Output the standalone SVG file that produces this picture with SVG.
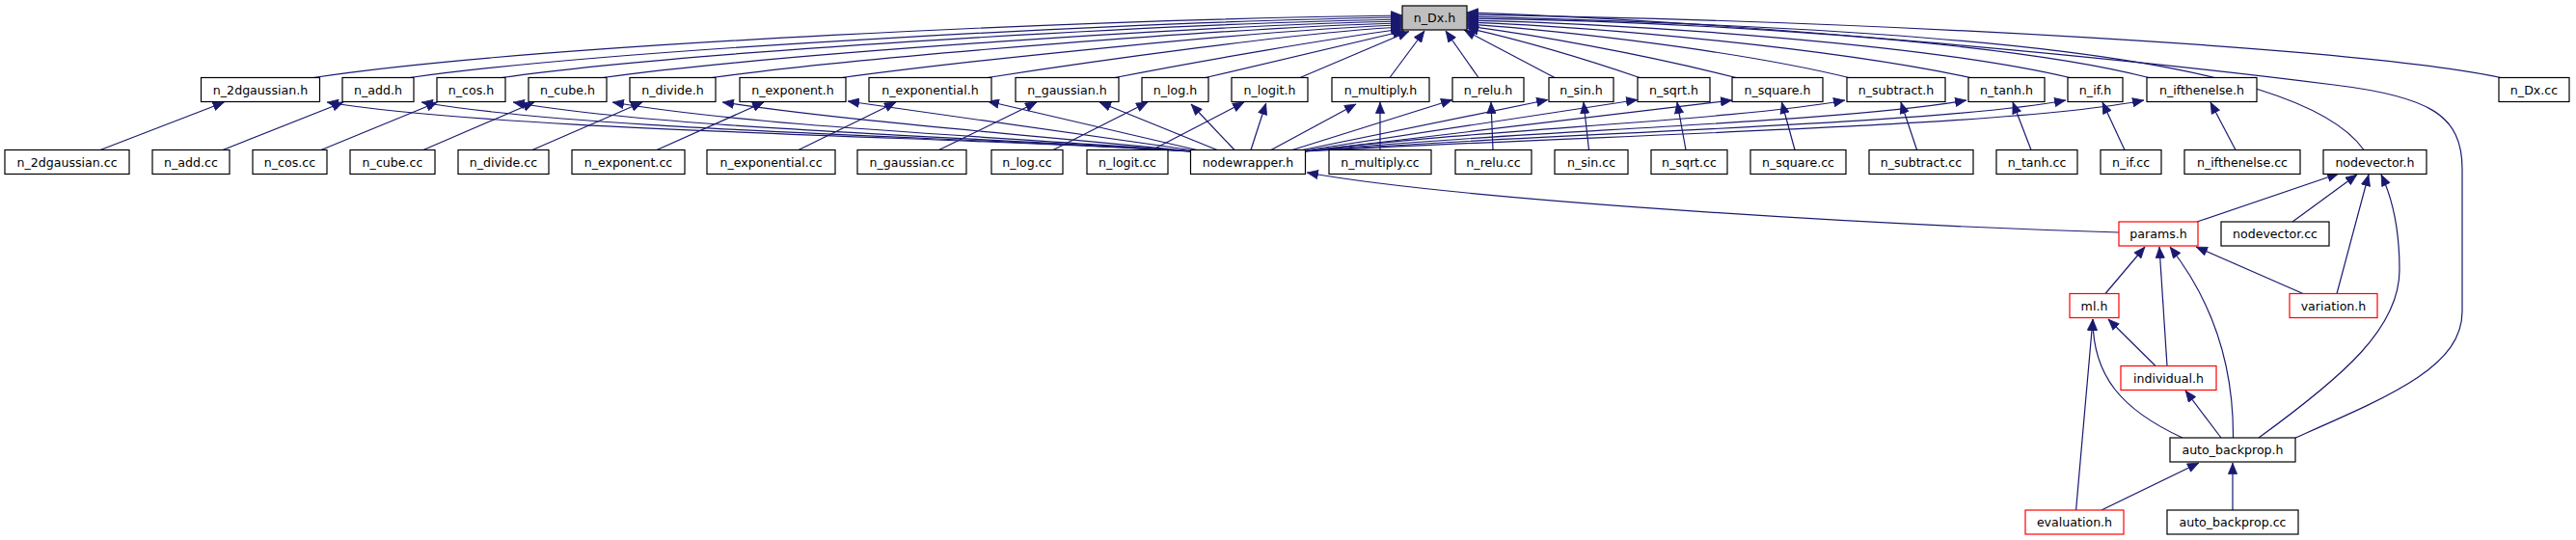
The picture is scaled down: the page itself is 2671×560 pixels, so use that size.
<svg xmlns="http://www.w3.org/2000/svg" width="2671" height="560" viewBox="0 0 2671 560">
<defs>
<marker id="ah" viewBox="0 0 12 10" refX="12" refY="5" markerWidth="12" markerHeight="10" markerUnits="userSpaceOnUse" orient="auto">
<path d="M0.4,0.4 L11.6,5 L0.4,9.6 Z" fill="#191970" stroke="#191970" stroke-width="0.8"/>
</marker>
</defs>
<style>
rect{fill:#ffffff;stroke:#000000;stroke-width:1.2}
.root rect{fill:#bfbfbf}
.red rect{stroke:#ff0000}
text{font-family:"DejaVu Sans","Liberation Sans",sans-serif;font-size:12.6px;text-anchor:middle;fill:#000000}
#edges path{fill:none;stroke:#191970;stroke-width:1.2;marker-end:url(#ah)}
</style>
<rect x="0" y="0" width="2671" height="560" style="fill:#ffffff;stroke:none"/>
<g id="edges">
<path d="M325,80.5 C560,45 1150,20 1454,16"/>
<path d="M425,80.5 C640,50 1200,22 1454,18"/>
<path d="M520,80.5 C720,52 1230,24 1454,20"/>
<path d="M625,80.5 C810,55 1260,26 1454,22"/>
<path d="M738,80.5 C900,58 1290,28 1454,24"/>
<path d="M873,80.5 C1010,62 1320,30 1454,26"/>
<path d="M1024,80.5 C1130,64 1350,33 1454,28"/>
<path d="M1156,80.5 C1250,62 1380,40 1454,30"/>
<path d="M1250,80.5 L1456,32"/>
<path d="M1348,80.5 L1461,32.5"/>
<path d="M1441,80.5 L1477,32"/>
<path d="M1533,80.5 L1499,32"/>
<path d="M1612,80.5 L1518,31"/>
<path d="M1700,80.5 C1640,60 1570,40 1521,29"/>
<path d="M1800,80.5 C1700,55 1590,36 1521,27"/>
<path d="M1917,80.5 C1800,52 1620,32 1521,25"/>
<path d="M2043,80.5 C1900,50 1660,28 1521,23"/>
<path d="M2146,80.5 C2000,46 1700,25 1521,21"/>
<path d="M2228,80.5 C2080,42 1750,22 1521,19"/>
<path d="M2451,155.5 C2380,55 2000,30 1521,17"/>
<path d="M2593,80.5 C2450,50 1950,22 1521,15"/>
<path d="M2380,454 C2480,410 2553,380 2553,323 L2553,175 C2553,120 2520,100 2420,88 C2200,60 1800,22 1521,13"/>
<path d="M104,155.5 L232.5,106"/>
<path d="M231,155.5 L356,106"/>
<path d="M333,155.5 L453.5,106"/>
<path d="M439,155.5 L554,106"/>
<path d="M552,155.5 L666,106"/>
<path d="M681,155.5 L792,106"/>
<path d="M828,155.5 L929,106"/>
<path d="M973.6,155.5 L1075,106"/>
<path d="M1092,155.5 L1190,106"/>
<path d="M1194.6,155.5 L1290,106"/>
<path d="M1431,155.5 L1431,106"/>
<path d="M1548,155.5 L1546,106"/>
<path d="M1647.5,155.5 L1642,106"/>
<path d="M1748,155.5 L1739,106"/>
<path d="M1861,155.5 L1847.5,106"/>
<path d="M1987.6,155.5 L1971,106"/>
<path d="M2106,155.5 L2087,106"/>
<path d="M2203,155.5 L2180,106"/>
<path d="M2318,155.5 L2292,106"/>
<path d="M1236,157 C1000,142 520,136 339,106"/>
<path d="M1236,157 C1010,142 610,136 437,106"/>
<path d="M1236,157 C1020,142 690,134 532,106"/>
<path d="M1236,157 C1040,142 780,131 635,106"/>
<path d="M1237,157 C1070,140 880,126 749,106"/>
<path d="M1238,156 L879,105"/>
<path d="M1241,155.5 L1024,105"/>
<path d="M1262,155.5 L1140,106"/>
<path d="M1280,155.5 L1235,108"/>
<path d="M1297,155.5 L1312.7,107"/>
<path d="M1318,155.5 L1406,108"/>
<path d="M1340,155.5 L1506,103.5"/>
<path d="M1348,156 L1605,103.5"/>
<path d="M1350,156.5 L1698,103.5"/>
<path d="M1352,157 L1796,104"/>
<path d="M1352,157 C1520,135 1800,125 1913,104"/>
<path d="M1352,157 C1560,136 1900,128 2039,104"/>
<path d="M1352,157 C1600,138 2000,130 2142,104"/>
<path d="M1352,157 C1650,140 2080,132 2223,104"/>
<path d="M2197,241 C1900,232 1500,205 1355,179"/>
<path d="M2278,230 L2425,180"/>
<path d="M2377,230 L2444,181"/>
<path d="M2423,304.5 L2456,181"/>
<path d="M2342,454 C2430,390 2488,340 2488,280 C2488,230 2478,200 2469,181"/>
<path d="M2183,304.5 L2224,256"/>
<path d="M2247,379.5 L2239,256"/>
<path d="M2315.5,454 C2316,390 2300,320 2250,256"/>
<path d="M2388,304.5 L2277,256"/>
<path d="M2235,379.5 L2186,331"/>
<path d="M2263,454 C2200,425 2170,390 2170,331"/>
<path d="M2152.6,529 L2170,331"/>
<path d="M2303,454 L2266,405"/>
<path d="M2179,529 L2280,480"/>
<path d="M2315,529 L2315,480"/>
</g>
<g id="n_Dx_h" class="root"><rect x="1454" y="6" width="67" height="25"/><text x="1487.5" y="23">n_Dx.h</text></g>
<g id="n_2dgaussian_h"><rect x="208.5" y="80.5" width="123" height="25"/><text x="270" y="97.5">n_2dgaussian.h</text></g>
<g id="n_add_h"><rect x="355" y="80.5" width="74" height="25"/><text x="392" y="97.5">n_add.h</text></g>
<g id="n_cos_h"><rect x="453" y="80.5" width="71" height="25"/><text x="488.5" y="97.5">n_cos.h</text></g>
<g id="n_cube_h"><rect x="548" y="80.5" width="81" height="25"/><text x="588.5" y="97.5">n_cube.h</text></g>
<g id="n_divide_h"><rect x="653" y="80.5" width="89" height="25"/><text x="697.5" y="97.5">n_divide.h</text></g>
<g id="n_exponent_h"><rect x="767" y="80.5" width="110" height="25"/><text x="822" y="97.5">n_exponent.h</text></g>
<g id="n_exponential_h"><rect x="901" y="80.5" width="127" height="25"/><text x="964.5" y="97.5">n_exponential.h</text></g>
<g id="n_gaussian_h"><rect x="1053" y="80.5" width="107" height="25"/><text x="1106.5" y="97.5">n_gaussian.h</text></g>
<g id="n_log_h"><rect x="1184" y="80.5" width="69" height="25"/><text x="1218.5" y="97.5">n_log.h</text></g>
<g id="n_logit_h"><rect x="1277" y="80.5" width="79" height="25"/><text x="1316.5" y="97.5">n_logit.h</text></g>
<g id="n_multiply_h"><rect x="1381" y="80.5" width="101" height="25"/><text x="1431.5" y="97.5">n_multiply.h</text></g>
<g id="n_relu_h"><rect x="1506" y="80.5" width="74" height="25"/><text x="1543" y="97.5">n_relu.h</text></g>
<g id="n_sin_h"><rect x="1606" y="80.5" width="67" height="25"/><text x="1639.5" y="97.5">n_sin.h</text></g>
<g id="n_sqrt_h"><rect x="1698" y="80.5" width="75" height="25"/><text x="1735.5" y="97.5">n_sqrt.h</text></g>
<g id="n_square_h"><rect x="1796" y="80.5" width="94" height="25"/><text x="1843" y="97.5">n_square.h</text></g>
<g id="n_subtract_h"><rect x="1915" y="80.5" width="102" height="25"/><text x="1966" y="97.5">n_subtract.h</text></g>
<g id="n_tanh_h"><rect x="2041" y="80.5" width="79" height="25"/><text x="2080.5" y="97.5">n_tanh.h</text></g>
<g id="n_if_h"><rect x="2144" y="80.5" width="57" height="25"/><text x="2172.5" y="97.5">n_if.h</text></g>
<g id="n_ifthenelse_h"><rect x="2226" y="80.5" width="114" height="25"/><text x="2283" y="97.5">n_ifthenelse.h</text></g>
<g id="n_Dx_cc"><rect x="2591" y="80.5" width="73" height="25"/><text x="2627.5" y="97.5">n_Dx.cc</text></g>
<g id="n_2dgaussian_cc"><rect x="5" y="155.5" width="129" height="25"/><text x="69.5" y="172.5">n_2dgaussian.cc</text></g>
<g id="n_add_cc"><rect x="158" y="155.5" width="80" height="25"/><text x="198" y="172.5">n_add.cc</text></g>
<g id="n_cos_cc"><rect x="262" y="155.5" width="77" height="25"/><text x="300.5" y="172.5">n_cos.cc</text></g>
<g id="n_cube_cc"><rect x="363" y="155.5" width="88" height="25"/><text x="407" y="172.5">n_cube.cc</text></g>
<g id="n_divide_cc"><rect x="475" y="155.5" width="94" height="25"/><text x="522" y="172.5">n_divide.cc</text></g>
<g id="n_exponent_cc"><rect x="593" y="155.5" width="117" height="25"/><text x="651.5" y="172.5">n_exponent.cc</text></g>
<g id="n_exponential_cc"><rect x="733" y="155.5" width="133" height="25"/><text x="799.5" y="172.5">n_exponential.cc</text></g>
<g id="n_gaussian_cc"><rect x="889" y="155.5" width="113" height="25"/><text x="945.5" y="172.5">n_gaussian.cc</text></g>
<g id="n_log_cc"><rect x="1028" y="155.5" width="74" height="25"/><text x="1065" y="172.5">n_log.cc</text></g>
<g id="n_logit_cc"><rect x="1127" y="155.5" width="84" height="25"/><text x="1169" y="172.5">n_logit.cc</text></g>
<g id="nodewrapper_h"><rect x="1234.5" y="155.5" width="119" height="25"/><text x="1294" y="172.5">nodewrapper.h</text></g>
<g id="n_multiply_cc"><rect x="1378" y="155.5" width="106" height="25"/><text x="1431" y="172.5">n_multiply.cc</text></g>
<g id="n_relu_cc"><rect x="1509" y="155.5" width="79" height="25"/><text x="1548.5" y="172.5">n_relu.cc</text></g>
<g id="n_sin_cc"><rect x="1612" y="155.5" width="76" height="25"/><text x="1650" y="172.5">n_sin.cc</text></g>
<g id="n_sqrt_cc"><rect x="1712" y="155.5" width="79" height="25"/><text x="1751.5" y="172.5">n_sqrt.cc</text></g>
<g id="n_square_cc"><rect x="1815" y="155.5" width="99" height="25"/><text x="1864.5" y="172.5">n_square.cc</text></g>
<g id="n_subtract_cc"><rect x="1938" y="155.5" width="108" height="25"/><text x="1992" y="172.5">n_subtract.cc</text></g>
<g id="n_tanh_cc"><rect x="2070" y="155.5" width="84" height="25"/><text x="2112" y="172.5">n_tanh.cc</text></g>
<g id="n_if_cc"><rect x="2178" y="155.5" width="63" height="25"/><text x="2209.5" y="172.5">n_if.cc</text></g>
<g id="n_ifthenelse_cc"><rect x="2265" y="155.5" width="120" height="25"/><text x="2325" y="172.5">n_ifthenelse.cc</text></g>
<g id="nodevector_h"><rect x="2409" y="155.5" width="107" height="25"/><text x="2462.5" y="172.5">nodevector.h</text></g>
<g id="params_h" class="red"><rect x="2197" y="230" width="82" height="25"/><text x="2238" y="247">params.h</text></g>
<g id="nodevector_cc"><rect x="2303" y="230" width="112" height="25"/><text x="2359" y="247">nodevector.cc</text></g>
<g id="ml_h" class="red"><rect x="2146" y="304.5" width="51" height="25"/><text x="2171.5" y="321.5">ml.h</text></g>
<g id="variation_h" class="red"><rect x="2374" y="304.5" width="91" height="25"/><text x="2419.5" y="321.5">variation.h</text></g>
<g id="individual_h" class="red"><rect x="2199" y="379.5" width="99" height="25"/><text x="2248.5" y="396.5">individual.h</text></g>
<g id="auto_backprop_h"><rect x="2250" y="454" width="130" height="25"/><text x="2315" y="471">auto_backprop.h</text></g>
<g id="evaluation_h" class="red"><rect x="2100" y="529" width="102" height="25"/><text x="2151" y="546">evaluation.h</text></g>
<g id="auto_backprop_cc"><rect x="2247" y="529" width="136" height="25"/><text x="2315" y="546">auto_backprop.cc</text></g>
</svg>
